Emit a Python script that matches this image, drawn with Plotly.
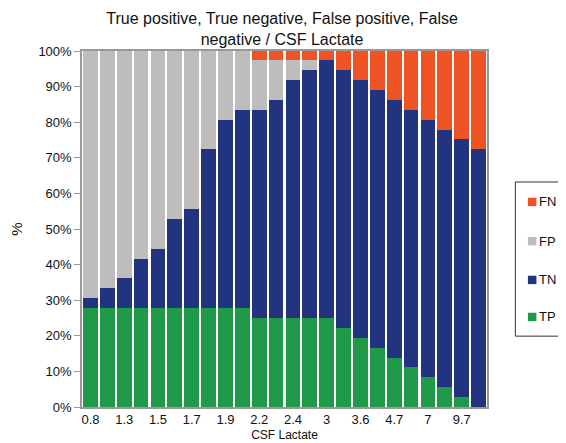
import plotly.graph_objects as go

categories = ["0.8", "1.1", "1.3", "1.4", "1.5", "1.6", "1.7", "1.8", "1.9", "2.0",
              "2.2", "2.3", "2.4", "2.6", "3", "3.2", "3.6", "4.1", "4.7", "5.5",
              "7", "8.5", "9.7", "11.5"]
tick_labels = ["0.8", "1.3", "1.5", "1.7", "1.9", "2.2", "2.4", "3", "3.6", "4.7", "7", "9.7"]

tp = [27.8, 27.8, 27.8, 27.8, 27.8, 27.8, 27.8, 27.8, 27.8, 27.8,
      25.0, 25.0, 25.0, 25.0, 25.0, 22.2, 19.4, 16.7, 13.9, 11.1,
      8.3, 5.6, 2.8, 0.0]
tn = [2.7, 5.5, 8.3, 13.9, 16.7, 25.1, 27.9, 44.6, 52.9, 55.6,
      58.4, 61.2, 66.9, 69.7, 72.5, 72.5, 72.5, 72.3, 72.3, 72.3,
      72.4, 72.3, 72.4, 72.4]
fp = [69.5, 66.7, 63.9, 58.3, 55.5, 47.1, 44.3, 27.6, 19.3, 16.6,
      14.1, 11.3, 5.6, 2.8, 0.0, 0.0, 0.0, 0.0, 0.0, 0.0,
      0.0, 0.0, 0.0, 0.0]
fn = [0.0, 0.0, 0.0, 0.0, 0.0, 0.0, 0.0, 0.0, 0.0, 0.0,
      2.5, 2.5, 2.5, 2.5, 2.5, 5.3, 8.1, 11.0, 13.8, 16.6,
      19.3, 22.1, 24.8, 27.6]

series_names = ["TP", "TN", "FP", "FN"]
series_values = [tp, tn, fp, fn]
series_colors = ["#1f9a48", "#22337f", "#bdbdbd", "#ef5323"]

font_family = "Liberation Sans, Arial, Helvetica, sans-serif"

# The page body has an 8px default margin; size the figure to fit the window.
FIG_W, FIG_H = 558, 435

fig = go.Figure()
for name, vals, color in zip(series_names, series_values, series_colors):
    fig.add_trace(go.Bar(
        x=categories, y=vals, name=name,
        marker=dict(color=color, line=dict(width=0)),
        showlegend=False,
    ))

# Manual legend (FN at top ... TP at bottom), placed like the reference
legend_order = ["FN", "FP", "TN", "TP"]
legend_y = [0.576, 0.466, 0.357, 0.253]
shapes = [dict(type="rect", xref="paper", yref="paper",
               x0=1.070, x1=1.25, y0=0.199, y1=0.632,
               line=dict(color="#333333", width=1), fillcolor="rgba(0,0,0,0)")]
annotations = []
sq_w, sq_h = 0.021, 0.0235
for name, yc in zip(legend_order, legend_y):
    color = series_colors[series_names.index(name)]
    shapes.append(dict(type="rect", xref="paper", yref="paper",
                       x0=1.101, x1=1.101 + sq_w, y0=yc - sq_h / 2, y1=yc + sq_h / 2,
                       line=dict(width=0), fillcolor=color))
    annotations.append(dict(text=name, xref="paper", yref="paper",
                            x=1.124, y=yc, xanchor="left", yanchor="middle",
                            showarrow=False, font=dict(size=13, family=font_family, color="#111111")))

fig.update_layout(
    barmode="stack",
    bargap=0.12,
    width=FIG_W, height=FIG_H,
    margin=dict(l=74, r=79, t=43, b=36, autoexpand=False),
    paper_bgcolor="white",
    plot_bgcolor="white",
    showlegend=False,
    font=dict(family=font_family, size=13, color="#111111"),
    title=dict(
        text="True positive, True negative, False positive, False<br>negative / CSF Lactate",
        x=0.494, xref="paper", xanchor="center",
        y=1 - 16 / FIG_H, yref="container", yanchor="middle",
        font=dict(size=16, family=font_family, color="#111111"),
    ),
    shapes=shapes,
    annotations=annotations,
    xaxis=dict(
        type="category",
        tickvals=tick_labels, ticktext=tick_labels,
        showline=True, linecolor="#999999", linewidth=1.5, mirror=True,
        ticks="", showgrid=False, automargin=False,
        title=dict(text="CSF Lactate", font=dict(size=12), standoff=4),
        tickfont=dict(size=13),
    ),
    yaxis=dict(
        range=[0, 100],
        tickvals=[0, 10, 20, 30, 40, 50, 60, 70, 80, 90, 100],
        ticktext=[f"{v}%" for v in range(0, 101, 10)],
        showline=True, linecolor="#999999", linewidth=1.5, mirror=True,
        ticks="outside", ticklen=6, tickcolor="#999999",
        showgrid=False, zeroline=False, automargin=False,
        title=dict(text="%", font=dict(size=15), standoff=14),
        tickfont=dict(size=13),
    ),
)

fig.write_html("out.html")
